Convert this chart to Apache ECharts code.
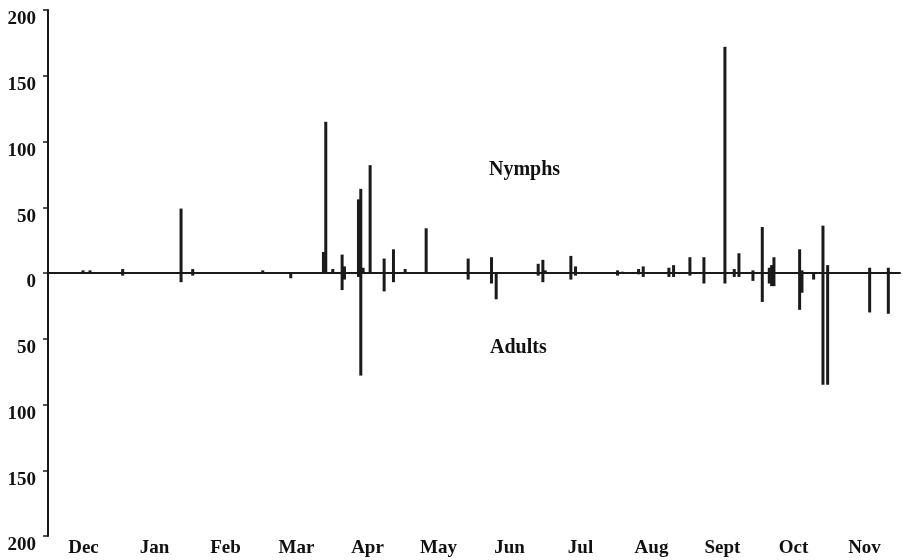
<!DOCTYPE html>
<html>
<head>
<meta charset="utf-8">
<script src="https://cdn.jsdelivr.net/npm/echarts@6/dist/echarts.min.js"></script>
<style>
html,body{margin:0;padding:0;background:#fff;}
#chart{width:903px;height:560px;}
</style>
</head>
<body>
<div id="chart"></div>
<script>
// Month labels (Dec .. Nov), day 0 = 1 December
const months = ['Dec','Jan','Feb','Mar','Apr','May','Jun','Jul','Aug','Sept','Oct','Nov'];

// Nymphs (above zero): day of year, count
const nymphDays   = [15, 18, 32, 57, 62, 92, 118, 119, 122, 126, 127, 133, 134, 135, 138, 144, 148, 153, 162, 180, 190, 210, 212, 213, 224, 226, 244, 246, 253, 255, 266, 268, 275, 281, 290, 294, 296, 302, 306, 309, 310, 311, 322, 323, 332, 334, 352, 360];
const nymphCounts = [2, 2, 3, 49, 3, 2, 16, 115, 3, 14, 5, 56, 64, 4, 82, 11, 18, 3, 34, 11, 12, 7, 10, 2, 13, 5, 2, 1, 3, 5, 4, 6, 12, 12, 172, 3, 15, 2, 35, 4, 6, 12, 18, 2, 36, 6, 4, 4];

// Adults (below zero): day of year, count (drawn downward)
const adultDays   = [32, 57, 62, 104, 126, 127, 133, 134, 144, 148, 180, 190, 192, 210, 212, 224, 226, 244, 253, 255, 266, 268, 275, 281, 290, 294, 296, 302, 306, 309, 310, 311, 322, 323, 328, 332, 334, 352, 360];
const adultValues = [-2, -7, -2, -4, -13, -5, -3, -78, -14, -7, -5, -8, -20, -2, -7, -5, -2, -2, -1, -3, -3, -3, -2, -8, -8, -3, -3, -6, -22, -8, -10, -10, -28, -15, -5, -85, -85, -30, -31];

const yTickValues = [-200, -150, -100, -50, 0, 50, 100, 150, 200];

const nymphData = nymphDays.map((d, i) => [d, nymphCounts[i]]);
const adultData = adultDays.map((d, i) => [d, adultValues[i]]);

const chart = echarts.init(document.getElementById('chart'), null, {renderer: 'canvas'});
const font = '"Liberation Serif", "Times New Roman", serif';

chart.setOption({
  backgroundColor: '#ffffff',
  animation: false,
  grid: {left: 48, right: 3, top: 10, bottom: 24, containLabel: false},
  xAxis: [
    {
      type: 'value', min: 0, max: 365,
      axisLine: {show: true, onZero: true, lineStyle: {color: '#1a1a1a', width: 2}},
      axisTick: {show: false}, axisLabel: {show: false}, splitLine: {show: false}
    },
    {
      type: 'category', position: 'bottom', data: months, boundaryGap: true,
      axisLine: {show: false}, axisTick: {show: false}, splitLine: {show: false},
      axisLabel: {show: true, color: '#111', fontFamily: font, fontWeight: 'bold', fontSize: 19, margin: 3}
    }
  ],
  yAxis: {
    type: 'value', min: yTickValues[0], max: yTickValues[yTickValues.length - 1], interval: 50,
    axisLine: {show: true, lineStyle: {color: '#1a1a1a', width: 2}},
    axisTick: {show: true, inside: false, length: 5, lineStyle: {color: '#1a1a1a', width: 1.5}},
    splitLine: {show: false},
    axisLabel: {
      color: '#111', fontFamily: font, fontWeight: 'bold', fontSize: 19, margin: 12,
      verticalAlign: 'top',
      formatter: v => String(Math.abs(v))
    }
  },
  series: [
    {
      name: 'Nymphs', type: 'bar', xAxisIndex: 0, data: nymphData,
      barWidth: 3, barGap: '-100%', itemStyle: {color: '#1a1a1a'}
    },
    {
      name: 'Adults', type: 'bar', xAxisIndex: 0, data: adultData,
      barWidth: 3, barGap: '-100%', itemStyle: {color: '#1a1a1a'}
    }
  ],
  graphic: [
    {type: 'text', left: 489, top: 160, style: {text: 'Nymphs', font: 'bold 20px ' + font, fill: '#111'}},
    {type: 'text', left: 490, top: 338, style: {text: 'Adults', font: 'bold 20px ' + font, fill: '#111'}}
  ]
});
</script>
</body>
</html>
